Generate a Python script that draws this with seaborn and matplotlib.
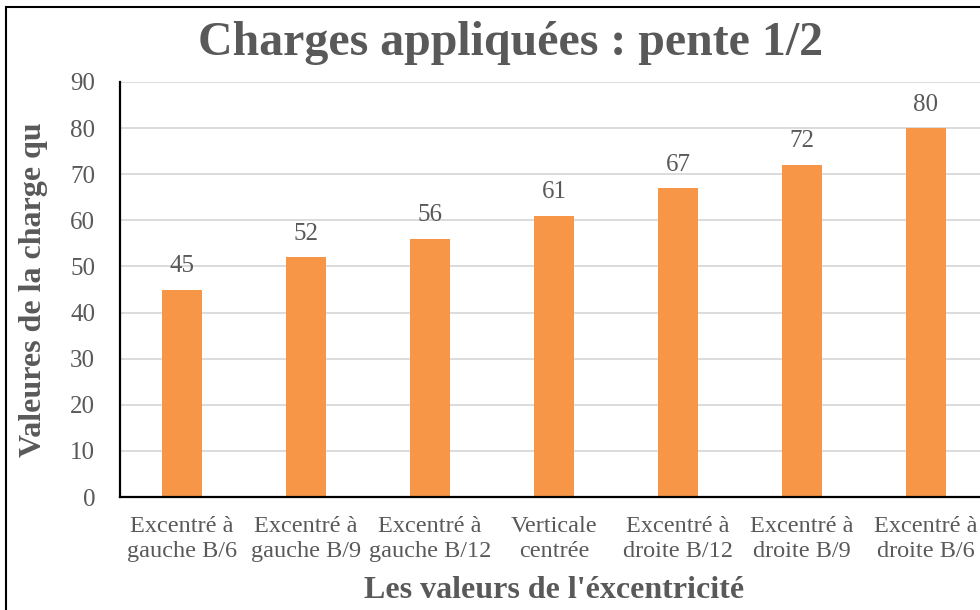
import matplotlib
matplotlib.use("Agg")
import matplotlib.pyplot as plt
import matplotlib.patches as mpatches
import seaborn as sns
import pandas as pd

categories = [
    "Excentré à\ngauche B/6",
    "Excentré à\ngauche B/9",
    "Excentré à\ngauche B/12",
    "Verticale\ncentrée",
    "Excentré à\ndroite B/12",
    "Excentré à\ndroite B/9",
    "Excentré à\ndroite B/6",
]
charges = [45, 52, 56, 61, 67, 72, 80]
y_ticks = [0, 10, 20, 30, 40, 50, 60, 70, 80, 90]

title = "Charges appliquées : pente 1/2"
x_label = "Les valeurs de l'éxcentricité"
y_label = "Valeures de la charge qu"

sns.set_theme(style="white")
plt.rcParams["font.family"] = ["Liberation Serif", "DejaVu Serif"]

text_grey = "#595959"
bar_orange = "#F79646"

df = pd.DataFrame({"cat": categories, "val": charges})

fig = plt.figure(figsize=(9.8, 6.1), dpi=100)
ax = fig.add_axes([120 / 980, 1 - 497 / 610, 868 / 980, 415 / 610])

sns.barplot(data=df, x="cat", y="val", color=bar_orange, saturation=1,
            width=0.32, ax=ax, zorder=3, edgecolor="none")

ax.set_xlim(-0.5, len(categories) - 0.5)
ax.set_ylim(0, 90)
ax.set_yticks(y_ticks)
ax.yaxis.grid(True, color="#D9D9D9", linewidth=1.3, zorder=0)
ax.set_axisbelow(True)

for side in ("top", "right"):
    ax.spines[side].set_visible(False)
for side in ("left", "bottom"):
    ax.spines[side].set_color("black")
    ax.spines[side].set_linewidth(1.6)
    ax.spines[side].set_zorder(4)

ax.tick_params(axis="both", length=0, colors=text_grey)
ax.tick_params(axis="y", labelsize=18, pad=18)
ax.tick_params(axis="x", labelsize=17.5, pad=14)
for lbl in ax.get_xticklabels():
    lbl.set_linespacing(1.22)

for container in ax.containers:
    ax.bar_label(container, labels=[f"{v:g}" for v in charges],
                 padding=9, fontsize=18, color=text_grey)

ax.set_xlabel(x_label, fontsize=23, fontweight="bold", color=text_grey,
              labelpad=10)
ax.set_ylabel(y_label, fontsize=23, fontweight="bold", color=text_grey,
              labelpad=16)

fig.text(510 / 980, 1 - 43 / 610, title, ha="center", va="center",
         fontsize=34.5, fontweight="bold", color=text_grey)

# chart frame
fig.patches.append(mpatches.Rectangle(
    (6 / 980, -0.1), 2, 1 - 7 / 610 + 0.1, transform=fig.transFigure,
    fill=False, edgecolor="black", linewidth=1.5))

fig.savefig("out.png", dpi=100)
